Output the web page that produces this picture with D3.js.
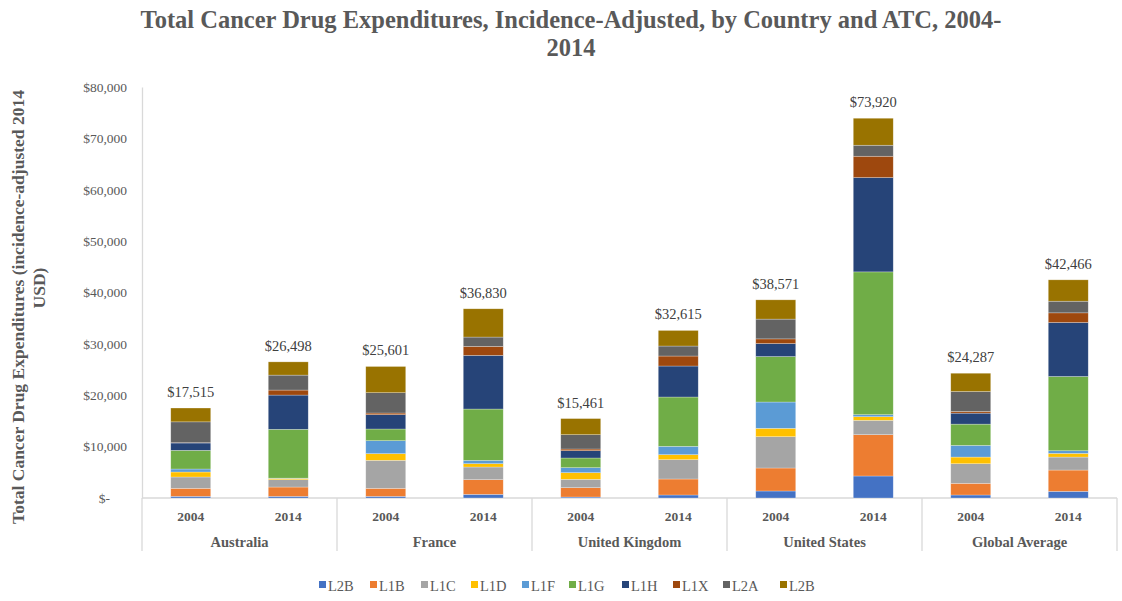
<!DOCTYPE html>
<html>
<head>
<meta charset="utf-8">
<script src="https://cdn.jsdelivr.net/npm/d3@7"></script>
<style>
  html, body { margin: 0; padding: 0; background: #fff; }
  svg { display: block; font-family: "Palatino Linotype", "Book Antiqua", Palatino, "Liberation Serif", serif; }
</style>
</head>
<body>
<svg id="chart" width="1122" height="601"></svg>
<script>
// Countries / groups and years shown on the category axis
const countries = ["Australia", "France", "United Kingdom", "United States", "Global Average"];
const years = ["2004", "2014"];

// ATC class series (bottom to top in each stack)
const seriesNames = ["L2B", "L1B", "L1C", "L1D", "L1F", "L1G", "L1H", "L1X", "L2A", "L2B"];
const seriesColors = ["#4472C4", "#ED7D31", "#A5A5A5", "#FFC000", "#5B9BD5", "#70AD47", "#264478", "#9E480E", "#636363", "#997300"];

// Incidence-adjusted expenditure per series (2014 USD), one array per country-year
const australia2004 = [330, 1557, 2199, 973, 584, 3639, 1421, 60, 4060, 2692];
const australia2014 = [325, 1810, 1425, 255, 50, 9510, 6660, 975, 2910, 2578];
const france2004 = [325, 1557, 5449, 1297, 2530, 2270, 2789, 325, 3956, 5103];
const france2014 = [713, 2853, 2465, 648, 648, 9989, 10443, 1751, 1816, 5504];
const uk2004 = [195, 1816, 1622, 1297, 973, 1881, 1427, 324, 2789, 3137];
const uk2014 = [584, 3114, 3762, 973, 1622, 9600, 6033, 1946, 1946, 3035];
const us2004 = [1362, 4476, 6097, 1622, 5124, 8852, 2530, 908, 3850, 3750];
const us2014 = [4281, 8042, 2789, 713, 389, 27800, 18360, 4151, 2141, 5254];
const global2004 = [583, 2267, 3822, 1296, 2267, 4145, 2137, 324, 3886, 3560];
const global2014 = [1296, 4145, 2526, 713, 518, 14459, 10503, 1880, 2267, 4159];

// Y axis tick values
const yTicks = [0, 10000, 20000, 30000, 40000, 50000, 60000, 70000, 80000];

const stacks = [
  [australia2004, australia2014],
  [france2004, france2014],
  [uk2004, uk2014],
  [us2004, us2014],
  [global2004, global2014]
];

const bars = [];
countries.forEach((c, ci) => {
  years.forEach((yr, yi) => {
    const vals = stacks[ci][yi];
    let cum = 0;
    const segs = vals.map((v, si) => {
      const s = { series: si, y0: cum, y1: cum + v };
      cum += v;
      return s;
    });
    bars.push({ country: c, year: yr, segs, total: cum });
  });
});

const svg = d3.select("#chart");
const textGrey = "#595959";
const lineGrey = "#D9D9D9";

const plot = { left: 142, right: 1117, top: 87, bottom: 498 };

const y = d3.scaleLinear().domain([0, 80000]).range([plot.bottom, plot.top]);
const xGroup = d3.scaleBand().domain(countries).range([plot.left, plot.right]).padding(0);
const xYear = d3.scaleBand().domain(years).range([0, xGroup.bandwidth()])
  .paddingInner(0.59).paddingOuter(0.295);

// Title
const title = svg.append("text")
  .attr("x", 571).attr("y", 28)
  .attr("text-anchor", "middle")
  .attr("fill", textGrey)
  .style("font-size", "24.5px").style("font-weight", "bold");
title.append("tspan").attr("x", 571).attr("dy", 0)
  .text("Total Cancer Drug Expenditures, Incidence-Adjusted, by Country and ATC, 2004-");
title.append("tspan").attr("x", 571).attr("dy", 28).text("2014");

// Y axis title (two lines, rotated)
const yTitle = svg.append("g")
  .attr("fill", textGrey)
  .style("font-size", "17.5px").style("font-weight", "bold");
yTitle.append("text")
  .attr("transform", "translate(24,307) rotate(-90)")
  .attr("text-anchor", "middle")
  .text("Total Cancer Drug Expenditures (incidence-adjusted  2014");
yTitle.append("text")
  .attr("transform", "translate(45,288) rotate(-90)")
  .attr("text-anchor", "middle")
  .text("USD)");

// Y axis
const fmt = d3.format(",");
const yAxis = svg.append("g")
  .attr("transform", `translate(${plot.left},0)`)
  .call(d3.axisLeft(y).tickValues(yTicks).tickSize(0).tickPadding(15)
    .tickFormat(d => d === 0 ? "$-" : "$" + fmt(d)))
  .attr("font-family", null)
  .attr("font-size", null);
yAxis.select(".domain").attr("stroke", lineGrey).attr("stroke-width", 1.3);
yAxis.selectAll(".tick text")
  .attr("fill", textGrey)
  .style("font-size", "13.5px")
  .attr("x", d => d === 0 ? -32 : -15);

// Category axis: baseline and group separators
svg.append("line")
  .attr("x1", plot.left).attr("x2", plot.right)
  .attr("y1", plot.bottom).attr("y2", plot.bottom)
  .attr("stroke", lineGrey).attr("stroke-width", 1.3);
const seps = countries.map(c => xGroup(c)).concat([plot.right]);
svg.append("g").selectAll("line").data(seps).join("line")
  .attr("x1", d => d).attr("x2", d => d)
  .attr("y1", plot.bottom).attr("y2", 551)
  .attr("stroke", lineGrey).attr("stroke-width", 1.3);

// Year labels
svg.append("g").selectAll("text").data(bars).join("text")
  .attr("x", d => xGroup(d.country) + xYear(d.year) + xYear.bandwidth() / 2)
  .attr("y", 521)
  .attr("text-anchor", "middle")
  .attr("fill", textGrey)
  .style("font-size", "13.5px").style("font-weight", "bold")
  .text(d => d.year);

// Country labels
svg.append("g").selectAll("text").data(countries).join("text")
  .attr("x", d => xGroup(d) + xGroup.bandwidth() / 2)
  .attr("y", 547)
  .attr("text-anchor", "middle")
  .attr("fill", textGrey)
  .style("font-size", "14.5px").style("font-weight", "bold")
  .text(d => d);

// Stacked bars
const barG = svg.append("g").selectAll("g").data(bars).join("g")
  .attr("transform", d => `translate(${xGroup(d.country) + xYear(d.year)},0)`);
barG.selectAll("rect").data(d => d.segs).join("rect")
  .attr("x", 0)
  .attr("width", xYear.bandwidth())
  .attr("y", d => y(d.y1))
  .attr("height", d => y(d.y0) - y(d.y1))
  .attr("fill", d => seriesColors[d.series])
  .attr("stroke", "#ffffff").attr("stroke-opacity", 0.45).attr("stroke-width", 0.6);

// Totals above each stack
barG.append("text")
  .attr("x", xYear.bandwidth() / 2)
  .attr("y", d => y(d.total) - 11)
  .attr("text-anchor", "middle")
  .attr("fill", "#404040")
  .style("font-size", "14.5px")
  .text(d => "$" + fmt(d.total));

// Legend
const legendX = [319, 370, 421, 471, 522, 569, 622, 673, 723, 780];
const legend = svg.append("g").selectAll("g").data(seriesNames).join("g")
  .attr("transform", (d, i) => `translate(${legendX[i]},581)`);
legend.append("rect")
  .attr("width", 7).attr("height", 7)
  .attr("fill", (d, i) => seriesColors[i]);
legend.append("text")
  .attr("x", 9).attr("y", 10)
  .attr("fill", textGrey)
  .style("font-size", "14.5px")
  .text(d => d);
</script>
</body>
</html>
